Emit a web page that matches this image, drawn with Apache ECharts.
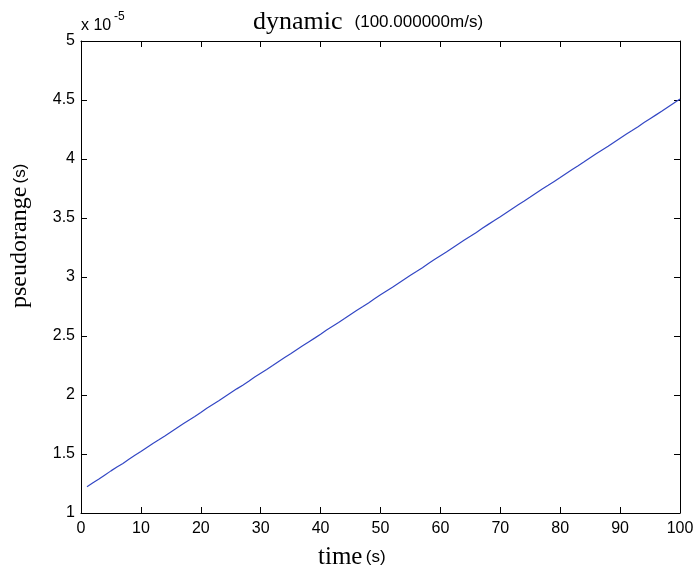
<!DOCTYPE html>
<html>
<head>
<meta charset="utf-8">
<title>dynamic</title>
<script src="https://cdn.jsdelivr.net/npm/echarts@6/dist/echarts.min.js"></script>
<style>
  html, body { margin: 0; padding: 0; background: #ffffff; }
  #chart { width: 698px; height: 571px; }
</style>
</head>
<body>
<div id="chart"></div>
<script>
// time samples (s)
const timeS = [
  1, 2, 3, 4, 5, 6, 7, 8, 9, 10,
  11, 12, 13, 14, 15, 16, 17, 18, 19, 20,
  21, 22, 23, 24, 25, 26, 27, 28, 29, 30,
  31, 32, 33, 34, 35, 36, 37, 38, 39, 40,
  41, 42, 43, 44, 45, 46, 47, 48, 49, 50,
  51, 52, 53, 54, 55, 56, 57, 58, 59, 60,
  61, 62, 63, 64, 65, 66, 67, 68, 69, 70,
  71, 72, 73, 74, 75, 76, 77, 78, 79, 80,
  81, 82, 83, 84, 85, 86, 87, 88, 89, 90,
  91, 92, 93, 94, 95, 96, 97, 98, 99, 100
];

// pseudorange in units of 1e-5 s
const pseudorangeE5 = [
  1.223, 1.256, 1.288, 1.323, 1.357, 1.389, 1.420, 1.455, 1.489, 1.521,
  1.555, 1.589, 1.620, 1.652, 1.687, 1.721, 1.754, 1.786, 1.818, 1.852,
  1.887, 1.919, 1.951, 1.985, 2.019, 2.052, 2.083, 2.117, 2.152, 2.185,
  2.217, 2.250, 2.284, 2.317, 2.349, 2.383, 2.417, 2.450, 2.482, 2.515,
  2.550, 2.582, 2.614, 2.648, 2.683, 2.716, 2.747, 2.780, 2.815, 2.849,
  2.881, 2.913, 2.947, 2.981, 3.014, 3.046, 3.079, 3.114, 3.148, 3.180,
  3.212, 3.246, 3.280, 3.313, 3.345, 3.378, 3.413, 3.446, 3.478, 3.511,
  3.545, 3.579, 3.612, 3.644, 3.677, 3.711, 3.745, 3.777, 3.810, 3.843,
  3.878, 3.911, 3.943, 3.976, 4.010, 4.044, 4.076, 4.108, 4.142, 4.176,
  4.209, 4.241, 4.274, 4.309, 4.342, 4.374, 4.406, 4.441, 4.475, 4.508
];

// axis ranges and tick steps
const xRange = [0, 100];
const xStep = 10;
const yRange = [1, 5];
const yStep = 0.5;

const SANS = '"Liberation Sans", Arial, Helvetica, sans-serif';
const SERIF = '"Liberation Serif", "Times New Roman", Times, serif';
const INK = '#000000';

const tickStyle = { show: true, inside: true, length: 6, lineStyle: { color: INK, width: 1 } };
const lineStyle = { show: true, onZero: false, lineStyle: { color: INK, width: 1 } };

const chart = echarts.init(document.getElementById('chart'), null, { renderer: 'canvas' });

chart.setOption({
  animation: false,
  backgroundColor: '#ffffff',
  grid: { left: 81, right: 18, top: 41, bottom: 58, containLabel: false, outerBoundsMode: 'none' },
  xAxis: [
    {
      type: 'value', min: xRange[0], max: xRange[1], interval: xStep,
      position: 'bottom',
      axisLine: lineStyle, axisTick: tickStyle, splitLine: { show: false },
      axisLabel: { color: INK, fontFamily: SANS, fontSize: 16, margin: 8 }
    },
    {
      type: 'value', min: xRange[0], max: xRange[1], interval: xStep,
      position: 'top',
      axisLine: lineStyle, axisTick: tickStyle, splitLine: { show: false },
      axisLabel: { show: false }
    }
  ],
  yAxis: [
    {
      type: 'value', min: yRange[0], max: yRange[1], interval: yStep,
      position: 'left',
      axisLine: lineStyle, axisTick: tickStyle, splitLine: { show: false },
      axisLabel: { color: INK, fontFamily: SANS, fontSize: 16, margin: 6 }
    },
    {
      type: 'value', min: yRange[0], max: yRange[1], interval: yStep,
      position: 'right',
      axisLine: lineStyle, axisTick: tickStyle, splitLine: { show: false },
      axisLabel: { show: false }
    }
  ],
  series: [
    {
      type: 'line',
      xAxisIndex: 0,
      yAxisIndex: 0,
      data: timeS.map((t, i) => [t, pseudorangeE5[i]]),
      showSymbol: false,
      symbol: 'none',
      lineStyle: { color: '#3347c4', width: 1.2 },
      silent: true
    }
  ],
  graphic: [
    {
      type: 'text', left: 253, top: 9, silent: true,
      style: {
        text: '{a|dynamic}{b|(100.000000m/s)}',
        rich: {
          a: { fontFamily: SERIF, fontSize: 26, fill: INK },
          b: { fontFamily: SANS, fontSize: 17, fill: INK, padding: [0, 0, 0, 12] }
        }
      }
    },
    {
      type: 'text', left: 81, top: 18, silent: true,
      style: { text: 'x 10', fontFamily: SANS, fontSize: 16, fill: INK }
    },
    {
      type: 'text', left: 114, top: 11, silent: true,
      style: { text: '-5', fontFamily: SANS, fontSize: 12, fill: INK }
    },
    {
      type: 'text', left: 318, top: 545, silent: true,
      style: {
        text: '{a|time} {b|(s)}',
        rich: {
          a: { fontFamily: SERIF, fontSize: 25, fill: INK },
          b: { fontFamily: SANS, fontSize: 17, fill: INK }
        }
      }
    },
    {
      type: 'text', x: 8, y: 308, rotation: Math.PI / 2, silent: true,
      style: {
        text: '{a|pseudorange} {b|(s)}',
        align: 'left', verticalAlign: 'top',
        rich: {
          a: { fontFamily: SERIF, fontSize: 24, fill: INK },
          b: { fontFamily: SANS, fontSize: 17, fill: INK }
        }
      }
    }
  ]
});
</script>
</body>
</html>
